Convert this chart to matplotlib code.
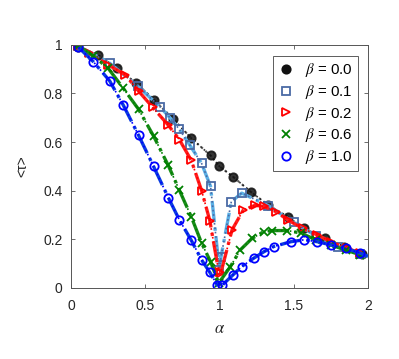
import numpy as np
import matplotlib.pyplot as plt

plt.rcParams['font.family'] = ['Liberation Sans', 'DejaVu Sans']
plt.rcParams['mathtext.fontset'] = 'stix'

# values (last point of each list is the line end at alpha = 2)
a_b00 = [0.05, 0.18, 0.31, 0.44, 0.56, 0.69, 0.81, 0.94, 1.0, 1.09, 1.21, 1.33, 1.46, 1.57, 1.71, 1.84, 1.96, 2.0]
t_b00 = [0.993, 0.959, 0.904, 0.842, 0.774, 0.694, 0.616, 0.545, 0.50, 0.458, 0.396, 0.34, 0.293, 0.245, 0.204, 0.17, 0.14, 0.13]

a_b01 = [0.05, 0.26, 0.45, 0.6, 0.67, 0.73, 0.80, 0.88, 0.94, 1.0, 1.01, 1.08, 1.15, 1.33, 1.5, 1.65, 1.8, 1.95, 2.0]
t_b01 = [0.995, 0.925, 0.83, 0.745, 0.698, 0.652, 0.588, 0.512, 0.418, 0.074, 0.126, 0.355, 0.39, 0.338, 0.27, 0.214, 0.168, 0.14, 0.13]

a_b02 = [0.05, 0.12, 0.25, 0.365, 0.455, 0.55, 0.655, 0.73, 0.81, 0.88, 0.935, 0.995, 1.01, 1.085, 1.16, 1.24, 1.30, 1.38, 1.46, 1.56, 1.66, 1.75, 1.86, 1.95, 2.0]
t_b02 = [0.995, 0.966, 0.918, 0.877, 0.81, 0.743, 0.67, 0.61, 0.525, 0.40, 0.277, 0.067, 0.063, 0.239, 0.32, 0.34, 0.335, 0.314, 0.28, 0.245, 0.218, 0.19, 0.163, 0.143, 0.13]

a_b06 = [0.05, 0.15, 0.25, 0.35, 0.455, 0.556, 0.655, 0.73, 0.81, 0.88, 0.94, 0.995, 1.074, 1.14, 1.22, 1.30, 1.355, 1.457, 1.547, 1.65, 1.75, 1.85, 1.95, 2.0]
t_b06 = [0.995, 0.955, 0.904, 0.823, 0.735, 0.625, 0.504, 0.402, 0.293, 0.184, 0.108, 0.02, 0.088, 0.156, 0.204, 0.232, 0.236, 0.236, 0.226, 0.198, 0.177, 0.156, 0.136, 0.13]

a_b10 = [0.05, 0.15, 0.26, 0.353, 0.455, 0.556, 0.655, 0.73, 0.81, 0.88, 0.934, 0.985, 1.02, 1.09, 1.15, 1.23, 1.30, 1.365, 1.48, 1.57, 1.66, 1.75, 1.85, 1.95, 2.0]
t_b10 = [0.99, 0.931, 0.852, 0.751, 0.628, 0.50, 0.372, 0.28, 0.196, 0.115, 0.065, 0.012, 0.012, 0.053, 0.088, 0.122, 0.149, 0.170, 0.19, 0.198, 0.19, 0.177, 0.163, 0.143, 0.13]

series = [
    (a_b00, t_b00, r'$\beta$ = 0.0', 'o', '#111111', '#555555', 'full'),
    (a_b01, t_b01, r'$\beta$ = 0.1', 's', '#4a6aa5', '#5ab0e6', 'none'),
    (a_b02, t_b02, r'$\beta$ = 0.2', '>', '#ff0000', '#ff2020', 'none'),
    (a_b06, t_b06, r'$\beta$ = 0.6', 'x', '#008000', '#1a8c1a', 'none'),
    (a_b10, t_b10, r'$\beta$ = 1.0', 'o', '#0000ff', '#0a3de0', 'none'),
]

fig = plt.figure(figsize=(3.99, 3.59), dpi=100)
ax = fig.add_axes([0.178, 0.198, 0.744, 0.677])

for a, t, lab, m, c, lc, fill in series:
    a = np.array(a)
    t = np.array(t)
    if fill == 'full':
        ax.plot(a, t, ':', color=lc, lw=1.5)
    else:
        ax.plot(a, t, '-.', color=lc, lw=2.4)
    mfc = c if fill == 'full' else 'none'
    ax.plot(a[:-1], t[:-1], ':', color=c, lw=1.2, marker=m, ms=6,
            mfc=mfc, mec=c, mew=1.3, alpha=0.85 if fill == 'full' else 1)
    ax.plot([], [], ls='none', marker=m, ms=6, mfc=mfc, mec=c, mew=1.3, label=lab)

ax.set_xlim(0, 2)
ax.set_ylim(0, 1)
ax.set_xticks([0, 0.5, 1, 1.5, 2])
ax.set_xticklabels(['0', '0.5', '1', '1.5', '2'])
ax.set_yticks([0, 0.2, 0.4, 0.6, 0.8, 1])
ax.set_yticklabels(['0', '0.2', '0.4', '0.6', '0.8', '1'])
ax.tick_params(direction='in', top=True, right=True, length=3, width=0.6,
               color='#555555', labelsize=10, labelcolor='#262626')
ax.tick_params(axis='x', pad=8)
ax.tick_params(axis='y', pad=6)
for s in ax.spines.values():
    s.set_color('#555555')
    s.set_linewidth(0.7)
ax.set_xlabel(r'$\alpha$', fontsize=12, color='#262626', labelpad=6)
ax.set_ylabel('<τ>', fontsize=10, color='#262626', labelpad=10)

leg = ax.legend(loc='upper right', bbox_to_anchor=(0.967, 0.955), fontsize=10.8,
                frameon=True, fancybox=False, handlelength=1.0, labelspacing=0.25,
                borderpad=0.35, handletextpad=0.8, borderaxespad=0)
leg.get_frame().set_edgecolor('#333333')
leg.get_frame().set_linewidth(0.7)

plt.savefig('out.png', dpi=100)
